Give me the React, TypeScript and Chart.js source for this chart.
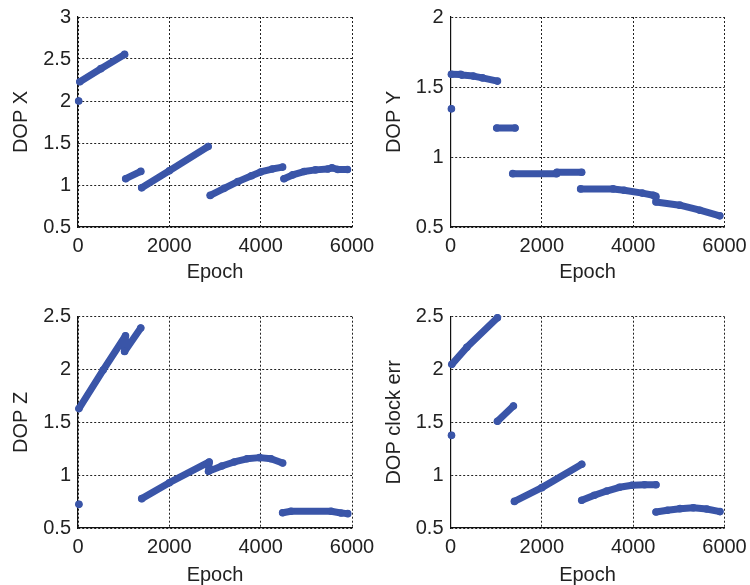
import React, { useEffect, useRef } from "react";
import { Chart, registerables } from "chart.js";

Chart.register(...registerables);

// ---------- data (null separates disjoint segments) ----------
const epochTicks = [0, 2000, 4000, 6000];

const dopXEpoch = [15, null, 40, 500, 1020, null, 1045, 1375, null, 1395, 2000, 2850, null, 2895, 3200, 3500, 3800, 4000, 4250, 4480, null, 4510, 4700, 4950, 5200, 5470, 5560, 5690, 5900];
const dopXValue = [2.0, null, 2.23, 2.385, 2.555, null, 1.075, 1.162, null, 0.967, 1.17, 1.459, null, 0.876, 0.96, 1.04, 1.11, 1.155, 1.19, 1.213, null, 1.075, 1.12, 1.16, 1.18, 1.19, 1.205, 1.185, 1.185];
const dopXTicks = [0.5, 1, 1.5, 2, 2.5, 3];

const dopYEpoch = [20, null, 20, 220, 250, 500, 700, 1028, null, 1013, 1414, null, 1363, 2320, 2330, 2872, null, 2850, 3560, 3800, 4200, 4440, 4497, 4500, 5020, 5460, 5897];
const dopYValue = [1.344, null, 1.591, 1.59, 1.585, 1.578, 1.565, 1.542, null, 1.207, 1.207, null, 0.881, 0.881, 0.891, 0.891, null, 0.772, 0.772, 0.763, 0.742, 0.727, 0.72, 0.679, 0.656, 0.62, 0.58];
const dopYTicks = [0.5, 1, 1.5, 2];

const dopZEpoch = [20, null, 20, 550, 1040, 1020, 1374, null, 1396, 2000, 2873, 2858, 3150, 3420, 3700, 3977, 4225, 4481, null, 4481, 4664, 5541, 5760, 5906];
const dopZValue = [0.724, null, 1.63, 1.995, 2.32, 2.17, 2.393, null, 0.778, 0.929, 1.125, 1.036, 1.087, 1.125, 1.155, 1.166, 1.155, 1.115, null, 0.645, 0.658, 0.658, 0.642, 0.636];
const dopZTicks = [0.5, 1, 1.5, 2, 2.5];

const dopClkEpoch = [22, null, 29, 357, 1028, null, 1028, 1378, null, 1400, 2000, 2874, null, 2874, 3150, 3421, 3700, 3975, 4250, 4500, null, 4500, 4750, 5025, 5317, 5609, 5900];
const dopClkValue = [1.377, null, 2.049, 2.21, 2.49, null, 1.51, 1.655, null, 0.752, 0.882, 1.103, null, 0.762, 0.81, 0.85, 0.885, 0.905, 0.91, 0.91, null, 0.651, 0.668, 0.683, 0.692, 0.68, 0.655];
const dopClkTicks = [0.5, 1, 1.5, 2, 2.5];

// ---------- styling ----------
const LINE_COLOR = "#3a55a8";
const TEXT_COLOR = "#222";
const GRID_COLOR = "#222";
const FONT_FAMILY = "'Liberation Sans', Arial, Helvetica, sans-serif";

type PanelSpec = {
  left: number;
  top: number;
  width: number;
  height: number;
  yAxisWidth: number;
  xAxisHeight: number;
  padTop: number;
  padRight: number;
  yTitlePad: number;
  xTitlePad: number;
  label: string;
  epochs: (number | null)[];
  values: (number | null)[];
  yTicks: number[];
};

const panels: PanelSpec[] = [
  { left: 0, top: 0, width: 375, height: 290, yAxisWidth: 78, xAxisHeight: 63, padTop: 17, padRight: 23, yTitlePad: 11, xTitlePad: 8, label: "DOP X", epochs: dopXEpoch, values: dopXValue, yTicks: dopXTicks },
  { left: 375, top: 0, width: 375, height: 290, yAxisWidth: 75.5, xAxisHeight: 63, padTop: 17, padRight: 25.5, yTitlePad: 9, xTitlePad: 8, label: "DOP Y", epochs: dopYEpoch, values: dopYValue, yTicks: dopYTicks },
  { left: 0, top: 290, width: 375, height: 295, yAxisWidth: 78, xAxisHeight: 57, padTop: 26.7, padRight: 23, yTitlePad: 11, xTitlePad: 0, label: "DOP Z", epochs: dopZEpoch, values: dopZValue, yTicks: dopZTicks },
  { left: 375, top: 290, width: 375, height: 295, yAxisWidth: 75.5, xAxisHeight: 57, padTop: 26.7, padRight: 25.5, yTitlePad: 9, xTitlePad: 0, label: "DOP clock err", epochs: dopClkEpoch, values: dopClkValue, yTicks: dopClkTicks },
];

function Panel({ spec }: { spec: PanelSpec }) {
  const ref = useRef<HTMLCanvasElement | null>(null);
  useEffect(() => {
    if (!ref.current) return;
    const data = spec.epochs.map((e, i) => ({ x: e, y: spec.values[i] }));
    const yMin = spec.yTicks[0];
    const yMax = spec.yTicks[spec.yTicks.length - 1];
    const chart = new Chart(ref.current, {
      type: "scatter",
      data: {
        datasets: [
          {
            data: data as any,
            showLine: true,
            spanGaps: false,
            clip: 10,
            borderColor: LINE_COLOR,
            backgroundColor: LINE_COLOR,
            borderWidth: 7,
            borderCapStyle: "round",
            borderJoinStyle: "round",
            pointRadius: 3.8,
            pointBorderWidth: 0,
            pointHoverRadius: 3.8,
            tension: 0,
          },
        ],
      },
      options: {
        animation: false,
        responsive: false,
        maintainAspectRatio: false,
        events: [],
        layout: { padding: { left: 0, top: spec.padTop, right: spec.padRight, bottom: 0 } },
        plugins: { legend: { display: false }, tooltip: { enabled: false } },
        scales: {
          x: {
            type: "linear",
            min: 0,
            max: 6000,
            afterBuildTicks: (scale: any) => {
              scale.ticks = epochTicks.map((v) => ({ value: v }));
            },
            afterFit: (scale: any) => {
              scale.height = spec.xAxisHeight;
            },
            ticks: {
              color: TEXT_COLOR,
              font: { family: FONT_FAMILY, size: 20, lineHeight: 1.95 },
              padding: 0,
              maxRotation: 0,
              autoSkip: false,
              callback: (v: any) => String(v),
            },
            grid: { color: GRID_COLOR, lineWidth: 1, drawTicks: false },
            border: { display: true, color: "#111", width: 1.2, dash: [2, 2] },
            title: {
              display: true,
              text: "Epoch",
              color: TEXT_COLOR,
              font: { family: FONT_FAMILY, size: 20, lineHeight: 1 },
              padding: { top: 0, bottom: spec.xTitlePad },
            },
          },
          y: {
            type: "linear",
            min: yMin,
            max: yMax,
            afterBuildTicks: (scale: any) => {
              scale.ticks = spec.yTicks.map((v) => ({ value: v }));
            },
            afterFit: (scale: any) => {
              scale.width = spec.yAxisWidth;
            },
            ticks: {
              color: TEXT_COLOR,
              font: { family: FONT_FAMILY, size: 20, lineHeight: 1 },
              padding: 7,
              autoSkip: false,
              callback: (v: any) => String(v),
            },
            grid: { color: GRID_COLOR, lineWidth: 1, drawTicks: false },
            border: { display: true, color: "#111", width: 1.2, dash: [2, 2] },
            title: {
              display: true,
              text: spec.label,
              color: TEXT_COLOR,
              font: { family: FONT_FAMILY, size: 20, lineHeight: 1 },
              padding: { top: spec.yTitlePad, bottom: 0 },
            },
          },
        },
      },
    });
    return () => chart.destroy();
  }, [spec]);
  return (
    <canvas
      ref={ref}
      width={spec.width}
      height={spec.height}
      style={{ position: "absolute", left: spec.left, top: spec.top, width: spec.width, height: spec.height }}
    />
  );
}

export default function App() {
  return (
    <div style={{ position: "fixed", left: 0, top: 0, width: 750, height: 585, background: "#fff", overflow: "hidden" }}>
      {panels.map((p, i) => (
        <Panel key={i} spec={p} />
      ))}
    </div>
  );
}
